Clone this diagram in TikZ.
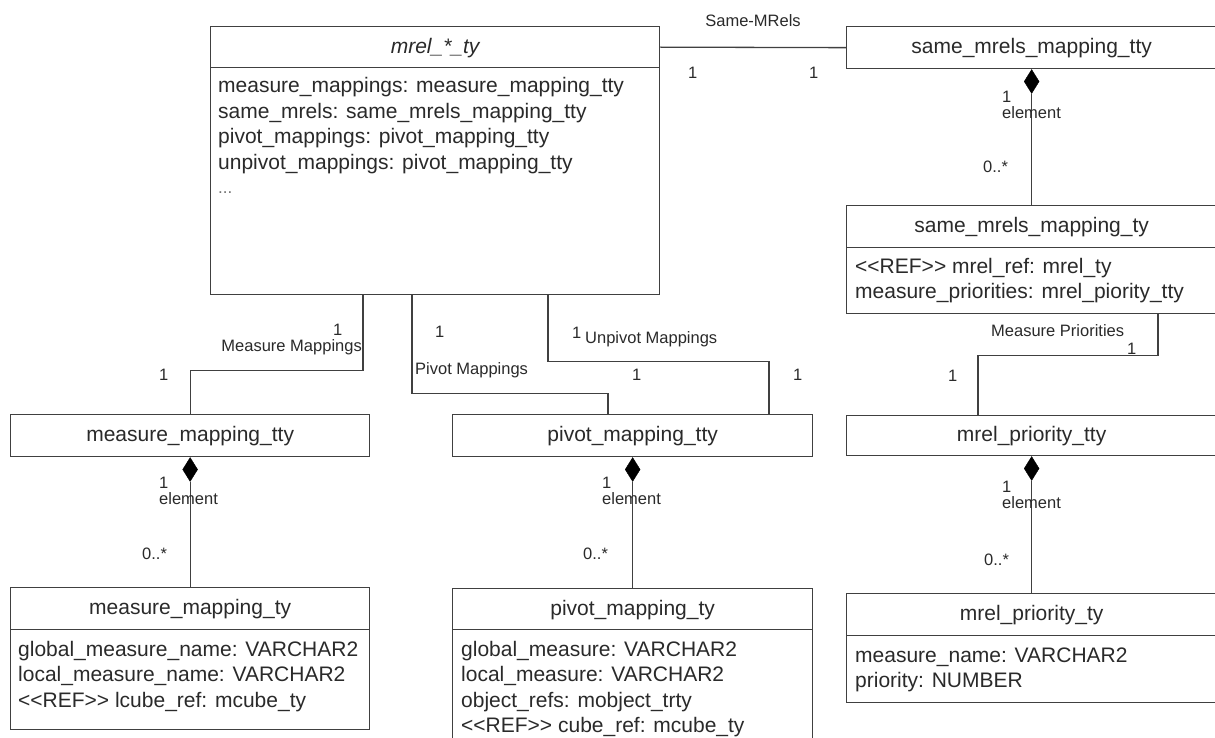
\documentclass[tikz,border=0pt]{standalone}
\usepackage{fontspec}
\setmainfont{Liberation Sans}
\usetikzlibrary{shapes.geometric,calc}
\definecolor{lc}{HTML}{404040}
\definecolor{tc}{HTML}{2A2A2A}
\newcommand{\lref}{<\kern0pt<REF>\kern0pt>}
\begin{document}
\begin{tikzpicture}[x=1pt,y=-1pt,
  ubox/.style={draw=lc, line width=1.3pt, rectangle, inner sep=0pt, anchor=north west},
  ttl/.style={anchor=base, inner sep=0pt, text=tc, font=\fontsize{21}{25.5}\selectfont},
  attr/.style={anchor=base west, inner sep=0pt, text=tc, font=\fontsize{21}{25.5}\selectfont},
  lbl/.style={anchor=base west, inner sep=0pt, text=tc, font=\fontsize{16.5}{19}\selectfont},
  conn/.style={draw=lc, line width=1.3pt},
  dia/.style={diamond, fill=black, draw=black, line width=0.4pt, inner sep=0pt, minimum width=15pt, minimum height=24pt, anchor=north}
]
\useasboundingbox (0,0) rectangle (1215,738);
\clip (0,0) rectangle (1215,738);
\fill[white] (0,0) rectangle (1215,738);

% ---------- mrel_*_ty ----------
\node[ubox, minimum width=449pt, minimum height=41pt] (mrelH) at (210,26) {};
\node[ubox, minimum width=449pt, minimum height=227pt] (mrelB) at (210,67) {};
\node[ttl, font=\fontsize{21}{25.5}\selectfont\itshape] (mrelT) at ($(mrelH.center)+(0,6)$) {mrel\_*\_ty};
\node[attr] (mrel1) at (218,93) {measure\_mappings: measure\_mapping\_tty};
\node[attr] (mrel2) at (218,118.5) {same\_mrels: same\_mrels\_mapping\_tty};
\node[attr] (mrel3) at (218,144) {pivot\_mappings: pivot\_mapping\_tty};
\node[attr] (mrel4) at (218,169.5) {unpivot\_mappings: pivot\_mapping\_tty};
\node[attr, font=\fontsize{17}{19}\selectfont, text=black!55] (mrel5) at (218,194) {...};

% ---------- same_mrels_mapping_tty ----------
\node[ubox, minimum width=370pt, minimum height=42pt] (smmH) at (846,26) {};
\node[ttl] (smmT) at ($(smmH.center)+(0,6)$) {same\_mrels\_mapping\_tty};

% ---------- same_mrels_mapping_ty ----------
\node[ubox, minimum width=370pt, minimum height=42pt] (smtH) at (846,205) {};
\node[ubox, minimum width=370pt, minimum height=66pt] (smtB) at (846,247) {};
\node[ttl] (smtT) at ($(smtH.center)+(0,6)$) {same\_mrels\_mapping\_ty};
\node[attr] (smt1) at (855,273) {\lref{} mrel\_ref: mrel\_ty};
\node[attr] (smt2) at (855,298.5) {measure\_priorities: mrel\_piority\_tty};

% ---------- mrel_priority_tty ----------
\node[ubox, minimum width=370pt, minimum height=40pt] (mptH) at (846,415) {};
\node[ttl] (mptT) at ($(mptH.center)+(0,6)$) {mrel\_priority\_tty};

% ---------- mrel_priority_ty ----------
\node[ubox, minimum width=370pt, minimum height=42pt] (mpyH) at (846,593) {};
\node[ubox, minimum width=370pt, minimum height=67pt] (mpyB) at (846,635) {};
\node[ttl] (mpyT) at ($(mpyH.center)+(0,6)$) {mrel\_priority\_ty};
\node[attr] (mpy1) at (855,662) {measure\_name: VARCHAR2};
\node[attr] (mpy2) at (855,687.5) {priority: NUMBER};

% ---------- measure_mapping_tty ----------
\node[ubox, minimum width=359pt, minimum height=42pt] (mmtH) at (10,414) {};
\node[ttl] (mmtT) at ($(mmtH.center)+(0,6)$) {measure\_mapping\_tty};

% ---------- measure_mapping_ty ----------
\node[ubox, minimum width=359pt, minimum height=42pt] (mmyH) at (10,587) {};
\node[ubox, minimum width=359pt, minimum height=100pt] (mmyB) at (10,629) {};
\node[ttl] (mmyT) at ($(mmyH.center)+(0,6)$) {measure\_mapping\_ty};
\node[attr] (mmy1) at (18,656) {global\_measure\_name: VARCHAR2};
\node[attr] (mmy2) at (18,681.5) {local\_measure\_name: VARCHAR2};
\node[attr] (mmy3) at (18,707) {\lref{} lcube\_ref: mcube\_ty};

% ---------- pivot_mapping_tty ----------
\node[ubox, minimum width=360pt, minimum height=42pt] (ptH) at (452,414) {};
\node[ttl] (ptT) at ($(ptH.center)+(0,6)$) {pivot\_mapping\_tty};

% ---------- pivot_mapping_ty ----------
\node[ubox, minimum width=360pt, minimum height=41pt] (pyH) at (452,588) {};
\node[ubox, minimum width=360pt, minimum height=130pt] (pyB) at (452,629) {};
\node[ttl] (pyT) at ($(pyH.center)+(0,6)$) {pivot\_mapping\_ty};
\node[attr] (py1) at (461,656) {global\_measure: VARCHAR2};
\node[attr] (py2) at (461,681.5) {local\_measure: VARCHAR2};
\node[attr] (py3) at (461,707) {object\_refs: mobject\_trty};
\node[attr] (py4) at (461,732.5) {\lref{} cube\_ref: mcube\_ty};

% ---------- associations ----------
\draw[conn] (mrelH.east) -- (smmH.west);
\node[lbl, anchor=base] (lSame) at (753,27) {Same-MRels};
\node[lbl] (lSame1) at (688,79) {1};
\node[lbl] (lSame2) at (809,79) {1};

\coordinate (mmA) at ([xshift=153pt]mrelB.south west);
\draw[conn] (mmA) -- ++(0,75) -| (mmtH.north);
\node[lbl] (lMM1) at (333,335) {1};
\node[lbl, anchor=base east] (lMM) at (362,351) {Measure Mappings};
\node[lbl] (lMM2) at (159,380) {1};

\coordinate (pvA) at ([xshift=202pt]mrelB.south west);
\coordinate (pvB) at ([xshift=156pt]ptH.north west);
\draw[conn] (pvA) -- ++(0,98) -| (pvB);
\node[lbl] (lPV1) at (435,337) {1};
\node[lbl] (lPV) at (415,374) {Pivot Mappings};
\node[lbl] (lPV2) at (632,380) {1};

\coordinate (upA) at ([xshift=338pt]mrelB.south west);
\coordinate (upB) at ([xshift=317pt]ptH.north west);
\draw[conn] (upA) -- ++(0,66) -| (upB);
\node[lbl] (lUP1) at (572,338) {1};
\node[lbl] (lUP) at (585,343) {Unpivot Mappings};
\node[lbl] (lUP2) at (793,380) {1};

\coordinate (mpA) at ([xshift=312pt]smtB.south west);
\coordinate (mpB) at ([xshift=132pt]mptH.north west);
\draw[conn] (mpA) -- ++(0,41) -| (mpB);
\node[lbl] (lMP) at (991,336) {Measure Priorities};
\node[lbl] (lMP1) at (1127,354) {1};
\node[lbl] (lMP2) at (948,381) {1};

% ---------- compositions ----------
\node[dia] (d1) at (smmH.south) {};
\draw[conn] (d1.south) -- (smtH.north);
\node[lbl] (c1a) at (1002,103) {1};
\node[lbl] (c1b) at (1002,119) {element};
\node[lbl] (c1c) at (983,173) {0..*};

\node[dia] (d2) at (mmtH.south) {};
\draw[conn] (d2.south) -- (mmyH.north);
\node[lbl] (c2a) at (159,488) {1};
\node[lbl] (c2b) at (159,504) {element};
\node[lbl] (c2c) at (142,559) {0..*};

\node[dia] (d3) at (ptH.south) {};
\draw[conn] (d3.south) -- (pyH.north);
\node[lbl] (c3a) at (602,488) {1};
\node[lbl] (c3b) at (602,504) {element};
\node[lbl] (c3c) at (583,559) {0..*};

\node[dia] (d4) at (mptH.south) {};
\draw[conn] (d4.south) -- (mpyH.north);
\node[lbl] (c4a) at (1002,492) {1};
\node[lbl] (c4b) at (1002,508) {element};
\node[lbl] (c4c) at (984,565) {0..*};
\end{tikzpicture}
\end{document}
